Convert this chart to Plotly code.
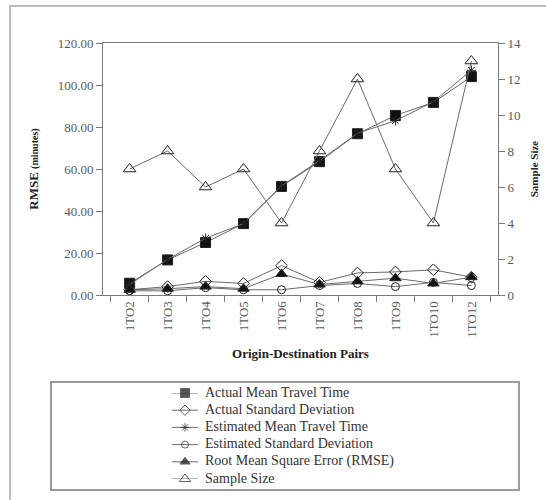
import plotly.graph_objects as go

# Origin-destination pairs (zone 1 to zone n)
od_pairs = ["1TO2", "1TO3", "1TO4", "1TO5", "1TO6", "1TO7", "1TO8", "1TO9", "1TO10", "1TO12"]

# Travel-time statistics in minutes
actual_mean = [5.6, 16.7, 25.0, 34.0, 51.7, 63.5, 76.8, 85.5, 91.7, 104.0]
actual_sd = [2.5, 4.0, 6.5, 5.5, 14.0, 6.0, 10.5, 11.0, 12.0, 8.5]
estimated_mean = [5.0, 17.0, 27.0, 34.0, 52.0, 64.0, 77.0, 83.0, 92.0, 107.0]
estimated_sd = [2.0, 2.0, 3.5, 2.5, 2.5, 4.5, 5.5, 4.0, 6.0, 4.5]
rmse = [2.5, 3.0, 4.0, 3.0, 10.0, 5.0, 6.5, 8.0, 5.5, 8.5]

# Number of observations per pair (right axis)
sample_size = [7, 8, 6, 7, 4, 8, 12, 7, 4, 13]

series_names = [
    "Actual Mean Travel Time",
    "Actual Standard Deviation",
    "Estimated Mean Travel Time",
    "Estimated Standard Deviation",
    "Root Mean Square Error (RMSE)",
    "Sample Size",
]

SERIF = "Liberation Serif"
LINE = dict(color="#6a6a6a", width=1)
INK = "#222222"

# (values, marker symbol, marker size, fill, y axis)
styles = [
    (actual_mean, "square", 10, "#111111", "y"),
    (actual_sd, "diamond-open", 9, INK, "y"),
    (estimated_mean, "asterisk-open", 8, INK, "y"),
    (estimated_sd, "circle-open", 8, INK, "y"),
    (rmse, "triangle-up", 10, "#111111", "y"),
    (sample_size, "triangle-up-open", 11, INK, "y2"),
]

fig = go.Figure()

for name, (values, symbol, size, fill, yax) in zip(series_names, styles):
    fig.add_trace(go.Scatter(
        x=od_pairs, y=values, name=name, mode="lines+markers", yaxis=yax,
        line=LINE, showlegend=False,
        marker=dict(symbol=symbol, size=size, color=fill,
                    line=dict(color=INK, width=1)),
    ))

# Compact key drawn on its own small axes below the chart
for row, (name, (values, symbol, size, fill, yax)) in enumerate(zip(series_names, styles)):
    fig.add_trace(go.Scatter(
        x=[0, 0.5, 1], y=[row, row, row], xaxis="x3", yaxis="y3",
        mode="lines+markers+text", text=["", "", "\u2002" + name],
        textposition="middle right", cliponaxis=False,
        textfont=dict(family=SERIF, size=14, color="#333333"),
        line=LINE, showlegend=False, hoverinfo="skip",
        marker=dict(symbol=symbol, size=[0, size - 1, 0], color=fill,
                    line=dict(color=INK, width=1)),
    ))

axis_common = dict(
    showline=True, linecolor="#7a7a7a", linewidth=1,
    ticks="outside", ticklen=6, tickcolor="#7a7a7a",
    showgrid=False, zeroline=False,
    tickfont=dict(family=SERIF, size=13, color="#5a5a5a"),
)
hidden = dict(visible=False, showgrid=False, zeroline=False, fixedrange=True)

# paper spans x 103..498 px and y 43..490 px
fig.update_layout(
    width=546, height=500,
    margin=dict(l=103, r=48, t=43, b=10, autoexpand=False),
    paper_bgcolor="white", plot_bgcolor="white",
    font=dict(family=SERIF, color=INK),
    showlegend=False,
    xaxis=dict(
        **axis_common, type="category", tickangle=-90, tickson="boundaries",
        mirror=True, anchor="y",
        title=dict(text="<b>Origin-Destination Pairs</b>",
                   font=dict(family=SERIF, size=13, color=INK), standoff=12),
    ),
    yaxis=dict(
        **axis_common, range=[0, 120], dtick=20, tickformat=".2f",
        domain=[0.43624, 1.0],
        title=dict(text="<b>RMSE <span style='font-size:10px'>(minutes)</span></b>",
                   font=dict(family=SERIF, size=13, color=INK), standoff=16),
    ),
    yaxis2=dict(
        **axis_common, overlaying="y", side="right", range=[0, 14], dtick=2,
        title=dict(text="<b>Sample Size</b>",
                   font=dict(family=SERIF, size=11, color=INK), standoff=10),
    ),
    xaxis3=dict(**hidden, domain=[0.1747, 0.2405], range=[0, 1], anchor="y3"),
    yaxis3=dict(**hidden, domain=[0.0246, 0.217], range=[5, 0], anchor="x3"),
    shapes=[
        # outer frame
        dict(type="rect", xref="paper", yref="paper",
             x0=-0.2354, x1=1.16, y0=-0.07, y1=1.0828,
             line=dict(color="#a8a8a8", width=1.5), layer="below"),
        # key box
        dict(type="rect", xref="paper", yref="paper",
             x0=-0.1316, x1=1.053, y0=0.0, y1=0.2416,
             line=dict(color="#9a9a9a", width=2), layer="below"),
    ],
)

fig.write_html("out.html")
